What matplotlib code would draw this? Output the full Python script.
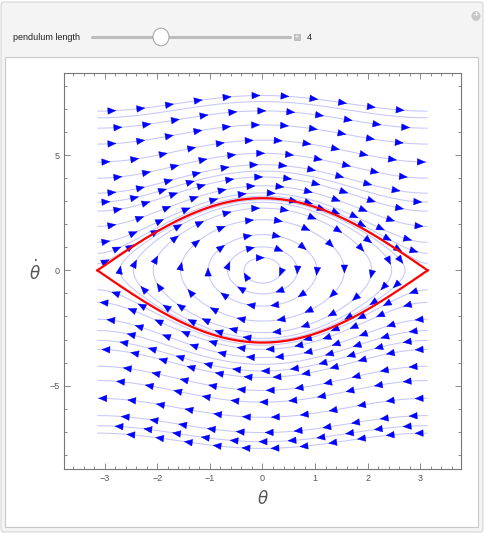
import numpy as np
import matplotlib
matplotlib.use('Agg')
import matplotlib.pyplot as plt
from matplotlib.patches import FancyBboxPatch, Rectangle, Circle, FancyArrowPatch, ArrowStyle
from matplotlib.ticker import MultipleLocator

# pendulum parameters (slider value shown in the control bar)
pendulum_length = 4
g = 9.81
x_ticks = [-3, -2, -1, 0, 1, 2, 3]
y_ticks = [-5, 0, 5]

# stream lines:
# rotating orbits, theta-dot where they meet the left edge (theta = -pi)
upper_edge_speeds = [6.91, 6.62, 6.17, 5.48, 4.70, 4.00, 3.35, 2.96, 2.57, 1.91, 1.22, 0.74, 0.30]
lower_edge_speeds = [-0.84, -1.39, -2.12, -2.61, -3.04, -3.43, -4.16, -4.78, -5.55, -6.30, -6.74, -7.06]
# swinging orbits, theta-dot at theta = 0
inner_peak_speeds = [0.55, 1.02, 1.55, 2.2, 2.7, 2.95, 3.06]

plt.rcParams['font.family'] = ['Liberation Sans', 'DejaVu Sans']

fig = plt.figure(figsize=(4.84, 5.34), dpi=100)
fig.patch.set_facecolor('white')

W, H = 484.0, 534.0
def fx(px):
    return px / W
def fy(py):
    return 1 - py / H

# outer gray panel
fig.add_artist(FancyBboxPatch((fx(1), fy(532)), fx(482), 530 / H,
                              boxstyle='round,pad=0,rounding_size=0.006',
                              transform=fig.transFigure, facecolor='#f4f4f4',
                              edgecolor='#d6d6d6', lw=0.8, zorder=-3))
# white content panel
fig.add_artist(Rectangle((fx(5), fy(527)), fx(473), 470 / H,
                         transform=fig.transFigure, facecolor='white',
                         edgecolor='#c8c8c8', lw=0.8, zorder=-2))

# slider control
fig.text(fx(13), fy(37), 'pendulum length', fontsize=6.5, va='center', ha='left', color='#222222')
fig.add_artist(plt.Line2D([fx(92), fx(290)], [fy(37), fy(37)], transform=fig.transFigure,
                          color='#bdbdbd', lw=2.2, solid_capstyle='round', zorder=2))
fig.add_artist(Circle((fx(161), fy(37)), 8 / W, transform=fig.transFigure,
                      facecolor='white', edgecolor='#a9a9a9', lw=0.8, zorder=5))
fig.add_artist(Rectangle((fx(294), fy(40)), 6 / W, 6 / H, transform=fig.transFigure,
                         facecolor='#c4c4c4', edgecolor='#b0b0b0', lw=0.5, zorder=2))
fig.text(fx(297), fy(37), '+', fontsize=5, color='white', ha='center', va='center', zorder=6)
fig.text(fx(307), fy(37), str(pendulum_length), fontsize=6.5, va='center', ha='left', color='#222222')
fig.add_artist(Circle((fx(476), fy(16)), 4.5 / W, transform=fig.transFigure,
                      facecolor='#c8c8c8', edgecolor='none', zorder=2))
fig.text(fx(476), fy(16), '+', fontsize=6, color='white', ha='center', va='center',
         fontweight='bold', zorder=6)

ax = fig.add_axes([fx(64.3), fy(469.3), (460.7 - 64.3) / W, (469.3 - 73.3) / H])
ax.set_zorder(3)
ax.set_xlim(-1.2 * np.pi, 1.2 * np.pi)
ax.set_ylim(-8.63, 8.55)

w2 = g / pendulum_length

def energy(th, v):
    return 0.5 * v ** 2 - w2 * np.cos(th)

line_col = '#c6c6fa'
th = np.linspace(-np.pi, np.pi, 500)
v_up = np.linspace(0, 8.5, 500)
v_dn = np.linspace(-8.5, 0, 500)
v_all = np.linspace(-4, 4, 500)

up_levels = sorted(energy(-np.pi, np.array(upper_edge_speeds)))
dn_levels = sorted(energy(-np.pi, np.array(lower_edge_speeds)))
in_levels = sorted(energy(0, np.array(inner_peak_speeds)))

sets = []
for vg, lev in [(v_all, in_levels), (v_up, up_levels), (v_dn, dn_levels)]:
    T, V = np.meshgrid(th, vg)
    cs = ax.contour(T, V, energy(T, V), levels=lev, colors=line_col, linewidths=0.75,
                    linestyles='solid', zorder=2)
    sets.append(cs)

# arrow heads along every stream line, kept apart from each other
ax.figure.canvas.draw()
sx = ax.transData.transform((1, 0))[0] - ax.transData.transform((0, 0))[0]
sy = ax.transData.transform((0, 1))[1] - ax.transData.transform((0, 0))[1]
inv = ax.transData.inverted()
head = ArrowStyle('-|>', head_length=0.6, head_width=0.25)
placed = []

def place_arrows(xy, spacing=29.0, offset=14.0, min_gap=10.5):
    d = ax.transData.transform(xy)
    seg = np.hypot(*np.diff(d, axis=0).T)
    s = np.concatenate([[0], np.cumsum(seg)])
    for t in np.arange(offset, s[-1] - 4, spacing):
        i = int(np.clip(np.searchsorted(s, t) - 1, 0, len(seg) - 1))
        if seg[i] == 0:
            continue
        p = d[i] + (t - s[i]) / seg[i] * (d[i + 1] - d[i])
        if placed and np.min(np.hypot(*(np.array(placed) - p).T)) < min_gap:
            continue
        pth, pv = inv.transform(p)
        dvec = np.array([pv * sx, -w2 * np.sin(pth) * sy])
        n = np.hypot(*dvec)
        if n == 0:
            continue
        dvec /= n
        a = inv.transform(p - dvec * 3.0)
        b = inv.transform(p + dvec * 3.0)
        placed.append(p)
        ax.add_patch(FancyArrowPatch(a, b, arrowstyle=head, mutation_scale=9.5,
                                     shrinkA=0, shrinkB=0, color='#0000ff', lw=0.3, zorder=3))

# outer lines first (highest energy), then the ones hugging the separatrix, then the swings
order = []
for cs in sets[1:]:
    for lev, level_segs in zip(cs.levels, cs.allsegs):
        order.append((-lev, level_segs))
order.sort(key=lambda o: o[0])
for lev, level_segs in zip(sets[0].levels, sets[0].allsegs):
    order.append((lev, level_segs))

for k, (_, level_segs) in enumerate(order):
    for xy in level_segs:
        if len(xy) > 2:
            place_arrows(xy, offset=10.0 + 6.0 * (k % 3))

# separatrix
ts = np.linspace(-np.pi, np.pi, 400)
sep = 2 * np.sqrt(w2) * np.cos(ts / 2)
ax.plot(ts, sep, color='#ff0000', lw=1.6, zorder=4)
ax.plot(ts, -sep, color='#ff0000', lw=1.6, zorder=4)

ax.set_xticks(x_ticks)
ax.set_yticks(y_ticks)
ax.xaxis.set_minor_locator(MultipleLocator(0.2))
ax.yaxis.set_minor_locator(MultipleLocator(1))
ax.tick_params(which='both', direction='in', top=True, right=True, colors='#777777',
               labelcolor='#555555', labelsize=6.5, width=0.6)
ax.tick_params(which='major', length=4)
ax.tick_params(which='minor', length=2.2)
ax.set_xticklabels(['\u22123', '\u22122', '\u22121', '0', '1', '2', '3'])
ax.set_yticklabels(['\u22125', '0', '5'])
for s in ax.spines.values():
    s.set_color('#777777')
    s.set_linewidth(0.8)

ax.set_xlabel(r'$\theta$', fontsize=12, color='#555555', labelpad=4)
ax.set_ylabel(r'$\dot{\theta}$', fontsize=12, color='#555555', rotation=0, labelpad=10, va='center')

fig.savefig('out.png', dpi=100)
